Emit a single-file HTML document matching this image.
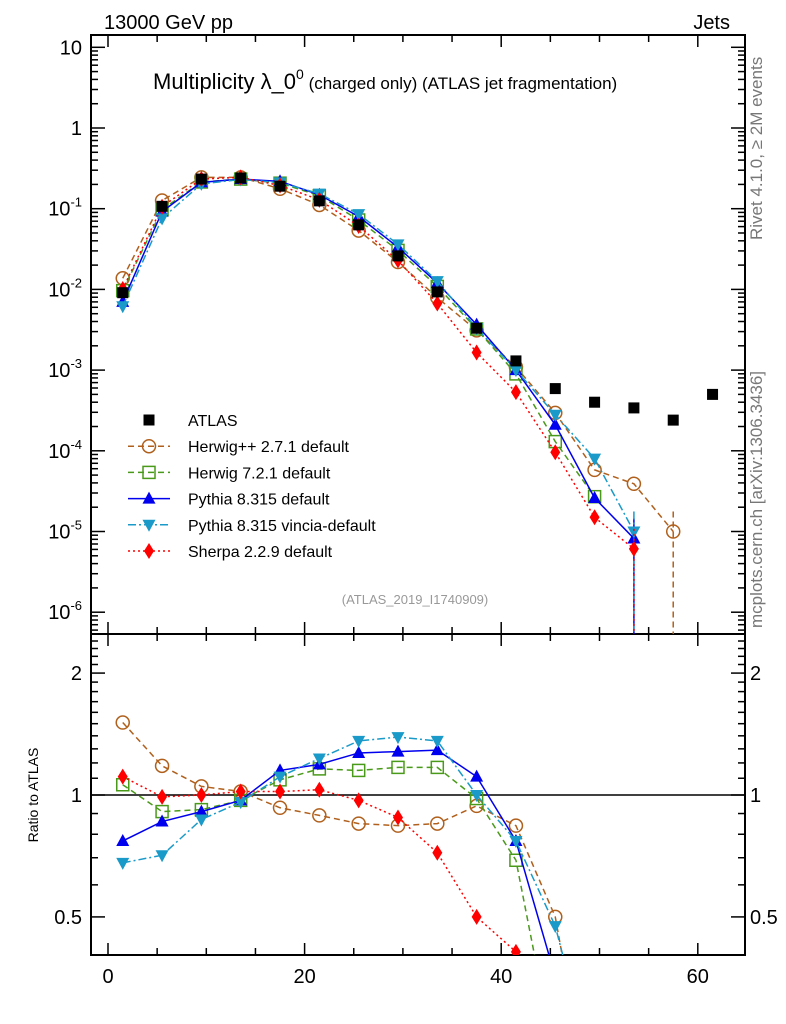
<!DOCTYPE html>
<html><head><meta charset="utf-8"><style>
html,body{margin:0;background:#fff;overflow:hidden;width:786px;height:1024px;}
svg{display:block;font-family:"Liberation Sans",sans-serif;overflow:hidden;}
</style></head><body>
<svg id="c" width="786" height="1024" xmlns="http://www.w3.org/2000/svg">
<g id="g"></g>
<text x="104" y="29" font-size="20">13000 GeV pp</text>
<text x="730" y="29" font-size="20" text-anchor="end">Jets</text>
<text x="153" y="89" font-size="22">Multiplicity λ_0<tspan font-size="14" dy="-10">0</tspan><tspan font-size="17" dy="10"> (charged only)  (ATLAS jet fragmentation)</tspan></text>
<text x="415" y="604" font-size="13" fill="#999" text-anchor="middle">(ATLAS_2019_I1740909)</text>
<text transform="translate(762,240) rotate(-90)" font-size="17" fill="#777">Rivet 4.1.0, ≥ 2M events</text>
<text transform="translate(762,628) rotate(-90)" font-size="17" fill="#777">mcplots.cern.ch [arXiv:1306.3436]</text>
<text transform="translate(38,795) rotate(-90)" font-size="14" text-anchor="middle">Ratio to ATLAS</text>
</svg>
<script>
const xs=[1.5,5.5,9.5,13.5,17.5,21.5,25.5,29.5,33.5,37.5,41.5,45.5,49.5,53.5,57.5,61.5];
const atlas=[0.0091,0.107,0.233,0.24,0.19,0.125,0.063,0.026,0.0093,0.0033,0.0013,5.9e-4,4.0e-4,3.4e-4,2.4e-4,5.0e-4];
const herwigpp=[0.01374,0.1263,0.2447,0.2448,0.1767,0.1113,0.05355,0.02184,0.007905,0.003102,0.001092,2.95e-4,5.8e-5,3.9e-5,1.0e-5];
const herwig7=[0.009646,0.09737,0.2144,0.2328,0.2071,0.145,0.07245,0.03042,0.01088,0.003234,0.000897,1.3e-4,2.7e-5];
const pythia=[0.007007,0.09202,0.212,0.2328,0.2185,0.1488,0.08001,0.03328,0.012,0.003663,0.001001,2.1e-4,2.6e-5,8.2e-6];
const vincia=[0.006188,0.07597,0.2027,0.2304,0.2109,0.1538,0.08568,0.03614,0.01265,0.0033,0.001001,2.8e-4,8.0e-5,1.0e-5];
const sherpa=[0.0101,0.1059,0.233,0.2448,0.1938,0.1288,0.06111,0.02288,0.006696,0.00165,0.000533,9.6e-5,1.5e-5,6.1e-6];
const xTicks=[0,20,40,60];
const yTicksMain=[1e-6,1e-5,1e-4,1e-3,1e-2,1e-1,1,10];
const yTickBase=["10","10","10","10","10","10","1","10"];
const yTickExp=["-6","-5","-4","-3","-2","-1","",""];
const rTicks=[0.5,1,2];

const NS="http://www.w3.org/2000/svg";
const g=document.getElementById('g');
const L=91,R=745,T=35,MB=634,RB=955;
const X=v=>108+9.83*v;
const Y=v=>128-80.7*Math.log10(v);
const RY=v=>795-405*Math.log10(v);
function el(t,a,p){const e=document.createElementNS(NS,t);for(const k in a)e.setAttribute(k,a[k]);(p||g).appendChild(e);return e;}
// clip a polyline at a bottom y limit
function clipPts(pts,ymax){const out=[];for(let i=0;i<pts.length;i++){const p=pts[i];
 if(p[1]<=ymax){out.push(p);continue;}
 if(i>0&&pts[i-1][1]<=ymax){const q=pts[i-1];const t=(ymax-q[1])/(p[1]-q[1]);out.push([q[0]+t*(p[0]-q[0]),ymax]);}
 break;}return out;}

const defs=el('defs',{});
const c1=el('clipPath',{id:'cm'},defs);el('rect',{x:L,y:T,width:R-L,height:MB-T},c1);
const c2=el('clipPath',{id:'cr'},defs);el('rect',{x:L,y:MB,width:R-L,height:RB-MB},c2);

const f1=el('rect',{x:L,y:T,width:R-L,height:MB-T,fill:'none',stroke:'#000','stroke-width':2});


const f2=el('rect',{x:L,y:MB,width:R-L,height:RB-MB,fill:'none',stroke:'#000','stroke-width':2});



for(let v=0;v<=64;v+=5){
  const major=v%20===0;const len=major?12:7;const x=X(v);
  [[T,1],[MB,-1],[MB,1],[RB,-1]].forEach(([y0,d])=>el('line',{x1:x,x2:x,y1:y0,y2:y0+d*len,stroke:'#000','stroke-width':1.5}));
}
xTicks.forEach(v=>{const t=el('text',{x:X(v),y:983,'font-size':20,'text-anchor':'middle'});t.textContent=v;

});

for(let e=-7;e<=1;e++){for(let m=1;m<10;m++){const v=m*Math.pow(10,e);const y=Y(v);if(y<T||y>MB)continue;
 const len=m===1?14:7;
 el('line',{x1:L,x2:L+len,y1:y,y2:y,stroke:'#000','stroke-width':1.5});
 el('line',{x1:R,x2:R-len,y1:y,y2:y,stroke:'#000','stroke-width':1.5});}}
yTicksMain.forEach((v,i)=>{const t=el('text',{x:82,y:Y(v)+7,'font-size':20,'text-anchor':'end'});
 const b=el('tspan',{},t);b.textContent=yTickBase[i];
 if(yTickExp[i]){const s=el('tspan',{'font-size':13,dy:-9},t);s.textContent=yTickExp[i];}
 
 });

for(let k=4;k<=24;k++){const v=k/10;const y=RY(v);if(y<MB||y>RB)continue;const len=(v===0.5||v===1||v===2)?14:7;
 el('line',{x1:L,x2:L+len,y1:y,y2:y,stroke:'#000','stroke-width':1.5});
 el('line',{x1:R,x2:R-len,y1:y,y2:y,stroke:'#000','stroke-width':1.5});}
rTicks.forEach(v=>{[[82,'end'],[750,'start']].forEach(([x,a])=>{const t=el('text',{x:x,y:RY(v)+7,'font-size':20,'text-anchor':a});t.textContent=v;
 
 });});
el('line',{x1:L,x2:R,y1:RY(1),y2:RY(1),stroke:'#000','stroke-width':1.5});

function marker(p,type,x,y,col){
 const s=5.5;
 if(type==='sq')return el('rect',{x:x-s,y:y-s,width:2*s,height:2*s,fill:'#000'},p);
 if(type==='circ')return el('circle',{cx:x,cy:y,r:6.5,fill:'none',stroke:col,'stroke-width':1.5},p);
 if(type==='osq')return el('rect',{x:x-6,y:y-6,width:12,height:12,fill:'none',stroke:col,'stroke-width':1.5},p);
 if(type==='tri')return el('polygon',{points:`${x},${y-7} ${x-6.5},${y+5} ${x+6.5},${y+5}`,fill:col},p);
 if(type==='itri')return el('polygon',{points:`${x},${y+7} ${x-6.5},${y-5} ${x+6.5},${y-5}`,fill:col},p);
 if(type==='dia')return el('polygon',{points:`${x},${y-8} ${x-5},${y} ${x},${y+8} ${x+5},${y}`,fill:col},p);
}
const series=[
 {name:'herwigpp',data:herwigpp,col:'#b0601c',dash:'6,4',m:'circ',label:'Herwig++ 2.7.1 default',tail:[14]},
 {name:'herwig7',data:herwig7,col:'#4a9a1a',dash:'6,4',m:'osq',label:'Herwig 7.2.1 default',tail:[]},
 {name:'pythia',data:pythia,col:'#0000ee',dash:'',m:'tri',label:'Pythia 8.315 default',tail:[13]},
 {name:'vincia',data:vincia,col:'#1a9ac8',dash:'8,3,2,3',m:'itri',label:'Pythia 8.315 vincia-default',tail:[13]},
 {name:'sherpa',data:sherpa,col:'#ff0000',dash:'2,3',m:'dia',label:'Sherpa 2.2.9 default',tail:[13]}
];
const gm=el('g',{'clip-path':'url(#cm)'});
const gr=el('g',{'clip-path':'url(#cr)'});
series.forEach(s=>{
 const pts=s.data.map((v,i)=>`${X(xs[i])},${Y(v)}`).join(' ');
 const ln=el('polyline',{points:pts,fill:'none',stroke:s.col,'stroke-width':1.5,'stroke-dasharray':s.dash},gm);
 
 
 s.tail.forEach(i=>{const e=el('line',{x1:X(xs[i]),x2:X(xs[i]),y1:Y(s.data[i])-20,y2:MB,stroke:s.col,'stroke-width':1.5,'stroke-dasharray':s.dash},gm);
  
  });
 s.data.forEach((v,i)=>{const mk=marker(gm,s.m,X(xs[i]),Y(v),s.col);
  
  });
 const rp=clipPts(s.data.map((v,i)=>[X(xs[i]),RY(v/atlas[i])]),RB);
 const rl=el('polyline',{points:rp.map(p=>p.join(',')).join(' '),fill:'none',stroke:s.col,'stroke-width':1.5,'stroke-dasharray':s.dash},gr);
 
 
 s.data.forEach((v,i)=>{const ry=RY(v/atlas[i]);if(ry>RB+8)return;const mk=marker(gr,s.m,X(xs[i]),ry,s.col);
  
  });
});
atlas.forEach((v,i)=>{const mk=marker(gm,'sq',X(xs[i]),Y(v));
 
 });

const lg=el('g',{});


const ly0=420,lds=26.2;
const ent=[{m:'sq',col:'#000',label:'ATLAS',dash:null}].concat(series.map(s=>({m:s.m,col:s.col,label:s.label,dash:s.dash})));
ent.forEach((e,i)=>{const y=ly0+i*lds;const gg=el('g',{},lg);
 
 
 if(e.dash!==null)el('line',{x1:128,x2:170,y1:y,y2:y,stroke:e.col,'stroke-width':1.5,'stroke-dasharray':e.dash},gg);
 marker(gg,e.m,149,y,e.col);
 const t=el('text',{x:188,y:y+6,'font-size':16},gg);t.textContent=e.label;});
</script>
</body></html>
